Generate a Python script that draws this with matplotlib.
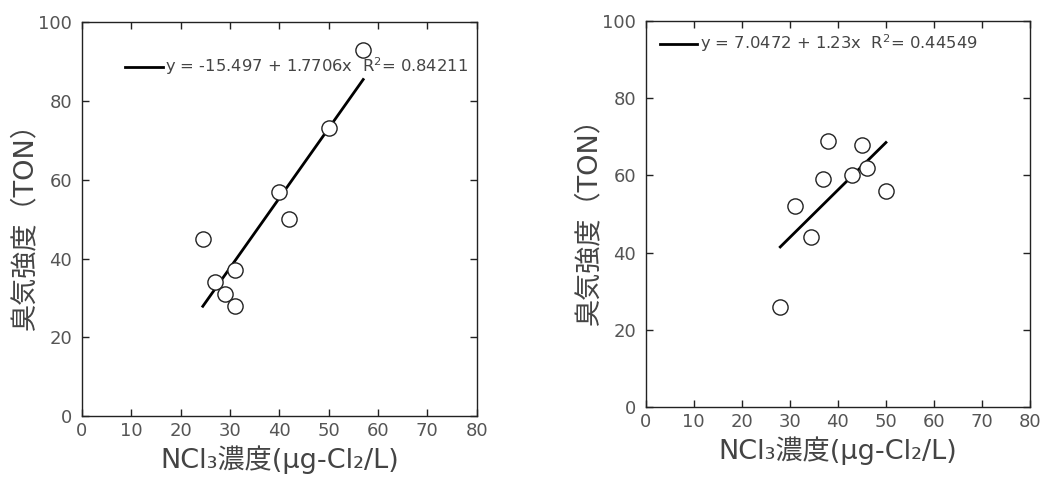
import numpy as np
import matplotlib.pyplot as plt

plt.rcParams["font.family"] = ["DejaVu Sans", "Noto Sans CJK JP"]
plt.rcParams["mathtext.default"] = "regular"

# left panel
left_x = [24.5, 27, 29, 31, 31, 40, 42, 50, 57]
left_y = [45, 34, 31, 28, 37, 57, 50, 73, 93]
left_fit = (-15.497, 1.7706)  # intercept, slope
left_r2 = 0.84211

# right panel
right_x = [28, 31, 34.5, 37, 38, 43, 45, 46, 50]
right_y = [26, 52, 44, 59, 69, 60, 68, 62, 56]
right_fit = (7.0472, 1.23)
right_r2 = 0.44549

x_ticks = [0, 10, 20, 30, 40, 50, 60, 70, 80]
y_ticks = [0, 20, 40, 60, 80, 100]

xlabel = "NCl₃濃度(μg-Cl₂/L)"
ylabel = "臭気強度（TON）"

text_col = "#444444"


def fmt(v):
    return f"{v:g}"


def panel(ax, xs, ys, fit, r2, legend_anchor):
    b0, b1 = fit
    xx = np.array([min(xs), max(xs)])
    label = f"y = {fmt(b0)} + {fmt(b1)}x  R$^{{2}}$= {r2}"
    line, = ax.plot(xx, b0 + b1 * xx, color="black", lw=2, label=label, zorder=2)
    ax.scatter(xs, ys, s=120, facecolor="white", edgecolor="#222222", lw=1.0, zorder=3)

    ax.set_xlim(0, 80)
    ax.set_ylim(0, 100)
    ax.set_xticks(x_ticks)
    ax.set_yticks(y_ticks)
    ax.tick_params(direction="in", length=5, width=1, top=True, right=True,
                   labelsize=13, labelcolor="#555555", color="#222222")
    ax.tick_params(axis="x", pad=4)
    ax.tick_params(axis="y", pad=7)
    for s in ax.spines.values():
        s.set_color("#222222")
        s.set_linewidth(1)
    ax.set_xlabel(xlabel, fontsize=19.5, color=text_col, labelpad=4)
    ax.set_ylabel(ylabel, fontsize=19.5, color=text_col, labelpad=0)

    ax.legend(handles=[line], loc="upper left", bbox_to_anchor=legend_anchor,
              frameon=False, fontsize=11.8, handlelength=2.3, handletextpad=0.15,
              borderpad=0, borderaxespad=0, labelcolor=text_col)


fig = plt.figure(figsize=(10.5, 4.8), dpi=100)
ax1 = fig.add_axes([0.078, 0.133, 0.376, 0.821])
ax2 = fig.add_axes([0.615, 0.152, 0.366, 0.804])

panel(ax1, left_x, left_y, left_fit, left_r2, (0.11, 0.915))
panel(ax2, right_x, right_y, right_fit, right_r2, (0.036, 0.97))

fig.savefig("out.png", dpi=100)
